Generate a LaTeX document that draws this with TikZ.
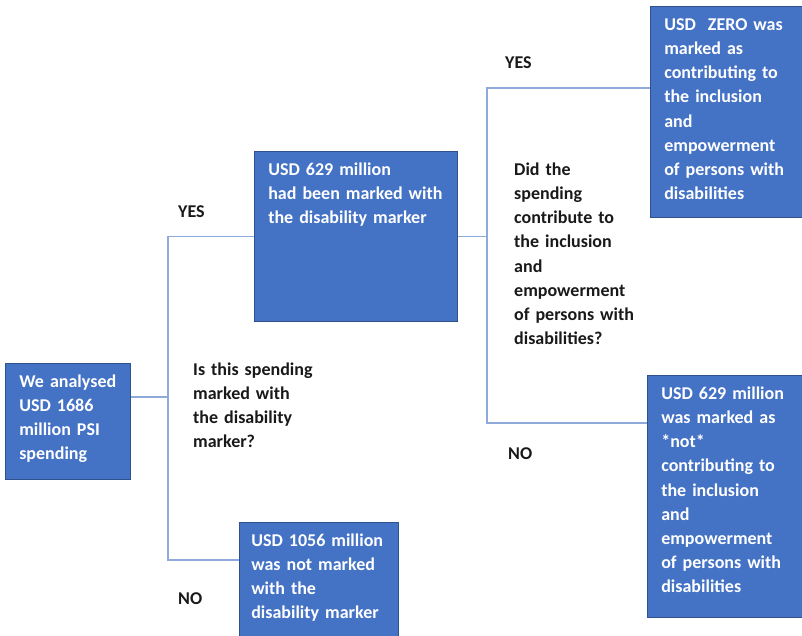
\documentclass[tikz,border=0pt]{standalone}
\usepackage{fontspec}
\setmainfont{Carlito}
\hyphenpenalty=10000
\definecolor{boxblue}{HTML}{4472C4}
\definecolor{boxline}{HTML}{2F528F}
\definecolor{linkblue}{HTML}{8EAADB}
\tikzset{
  box/.style={fill=boxblue,draw=boxline,line width=0.6pt,text=white,anchor=north west,
    align=left,inner xsep=14pt,inner ysep=12pt,text height=12pt,
    font=\fontsize{18}{24.2}\selectfont\bfseries},
  lbl/.style={anchor=north west,align=left,inner sep=0pt,text height=12pt,text width=140pt,
    text=black!90,font=\fontsize{18}{24.2}\selectfont\bfseries},
  link/.style={draw=linkblue,line width=1.5pt}
}
\begin{document}
\begin{tikzpicture}[x=1pt,y=-1pt]
\useasboundingbox (0,0) rectangle (802,635);
% boxes
\node[box,text width=97pt,text depth=80pt] (spend) at (5,363)
  {We analysed\\USD 1686\\million PSI\\spending};
\node[box,text width=175pt,text depth=134pt] (marked) at (254,151)
  {USD 629 million\\had been marked with\\the disability marker};
\node[box,text width=135pt,inner xsep=12pt,text depth=82pt] (notmarked) at (239,522)
  {USD 1056 million\\was not marked\\with the\\disability marker};
\node[box,text width=124pt,text depth=175pt] (zero) at (650,6)
  {USD\ \ ZERO was\\marked as\\contributing to\\the inclusion\\and\\empowerment\\of persons with\\disabilities};
\node[box,text width=127pt,text depth=206pt] (notcontr) at (647,375)
  {USD 629 million\\was marked as\\{*}not*\\contributing to\\the inclusion\\and\\empowerment\\of persons with\\disabilities};
% split points
\coordinate (j1) at (168,397);
\coordinate (j2) at (marked.east -| 487,0);
% connectors
\draw[link] ([yshift=-34pt]spend.north east) -- (j1);
\draw[link] (j1) |- (marked.west);
\draw[link] (j1) |- ([yshift=-38pt]notmarked.north west);
\draw[link] (marked.east) -- (j2);
\draw[link] (j2) |- ([yshift=-82pt]zero.north west);
\draw[link] (j2) |- ([yshift=-48pt]notcontr.north west);
% labels
\node[lbl] (yes1) at (178,205) {YES};
\node[lbl] (no1) at (178,592) {NO};
\node[lbl] (q1) at (193,363) {Is this spending\\marked with\\the disability\\marker?};
\node[lbl] (yes2) at (505,56) {YES};
\node[lbl] (no2) at (508,447) {NO};
\node[lbl] (q2) at (514,163) {Did the\\spending\\contribute to\\the inclusion\\and\\empowerment\\of persons with\\disabilities?};
\end{tikzpicture}
\end{document}
